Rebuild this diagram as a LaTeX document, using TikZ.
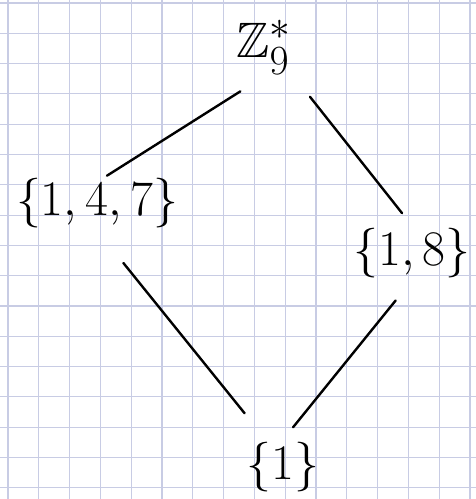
\documentclass[tikz,border=0pt]{standalone}
\usepackage{amssymb}
\usetikzlibrary{calc}
\definecolor{gridblue}{RGB}{200,204,228}
\tikzset{
  lbl/.style={font=\Huge, inner sep=1pt},
  link/.style={line width=1.2pt, line cap=round},
  gridline/.style={draw=gridblue, line width=0.55pt}
}

\begin{document}
\begin{tikzpicture}[x=0.5pt, y=-0.5pt]
  % squared paper
  \useasboundingbox[fill=white] (0,0) rectangle (476,499);
  \foreach \gx in {0,...,15}{\draw[gridline] ({8+30.8*\gx},0) -- ({8+30.8*\gx},499);}
  \foreach \gy in {0,...,16}{\draw[gridline] (0,{3+30.3*\gy}) -- (476,{3+30.3*\gy});}
  % subgroups
  \node[lbl] (zq)     at (264,47)  {$\mathbb{Z}_9^*$};
  \node[lbl] (sub147) at (97,203)  {$\{1,4,7\}$};
  \node[lbl] (sub18)  at (412,253) {$\{1,8\}$};
  \node[lbl] (triv)   at (283,467) {$\{1\}$};
  % inclusions
  \draw[link, shorten <=14pt] (zq.south) -- (sub147.70);
  \draw[link, shorten <=13pt, shorten >=8pt] (zq.south east) -- (sub18.north);
  \draw[link, shorten <=21pt, shorten >=17pt] (sub147.south) -- (triv.122);
  \draw[link, shorten <=13pt, shorten >=8pt] (sub18.south) -- (triv.north);
\end{tikzpicture}
\end{document}
